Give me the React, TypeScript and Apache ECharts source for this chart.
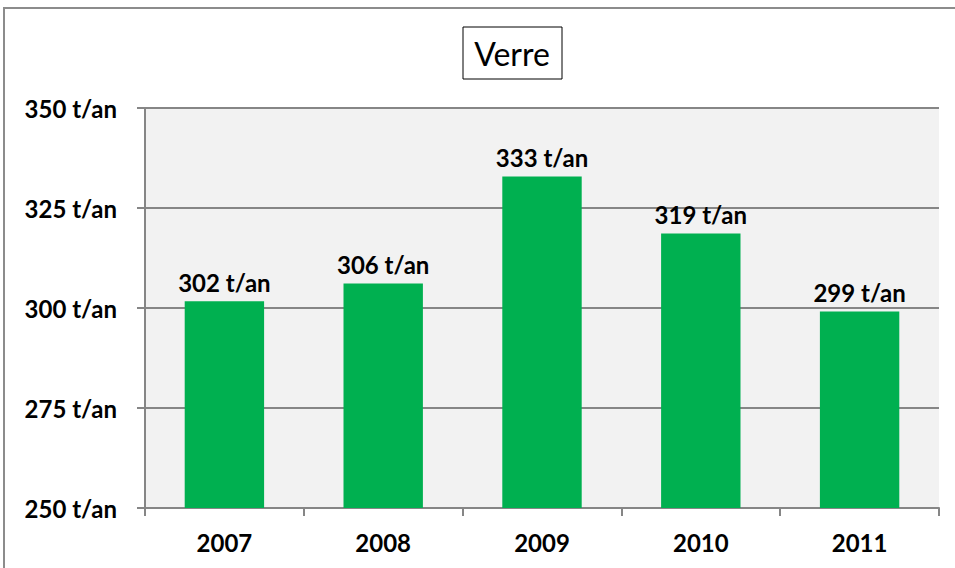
import React, { useEffect, useRef } from "react";
import * as echarts from "echarts";

const years = ["2007", "2008", "2009", "2010", "2011"];
const tonnages = [301.7, 306.1, 332.9, 318.6, 299.1];
const titleText = "Verre";
const unit = "t/an";

export default function App() {
  const ref = useRef<HTMLDivElement>(null);
  useEffect(() => {
    if (!ref.current) return;
    const chart = echarts.init(ref.current, null, { renderer: "svg" });
    const font = "Lato, 'Open Sans', sans-serif";
    chart.setOption({
      animation: false,
      backgroundColor: "#ffffff",
      graphic: [
        {
          type: "rect",
          shape: { x: 4, y: 8, width: 1000, height: 600 },
          style: { fill: "none", stroke: "#8c8c8c", lineWidth: 2 },
          z: 0,
        },
        {
          type: "rect",
          shape: { x: 463, y: 27, width: 99, height: 52 },
          style: { fill: "#ffffff", stroke: "#000000", lineWidth: 1 },
          z: 5,
        },
        {
          type: "text",
          x: 512,
          y: 53,
          style: {
            text: titleText,
            fontFamily: font,
            fontSize: 32,
            fill: "#000000",
            align: "center",
            verticalAlign: "middle",
          },
          z: 6,
        },
      ],
      grid: {
        left: 145,
        right: 16,
        top: 108,
        bottom: 60,
        show: true,
        backgroundColor: "#f2f2f2",
        borderWidth: 0,
      },
      xAxis: {
        type: "category",
        data: years,
        axisLine: { lineStyle: { color: "#868686", width: 2 } },
        axisTick: { show: true, length: 8, lineStyle: { color: "#868686", width: 2 } },
        axisLabel: {
          fontFamily: font,
          fontWeight: "bold",
          fontSize: 24,
          color: "#000000",
          margin: 22,
        },
      },
      yAxis: {
        type: "value",
        min: 250,
        max: 350,
        interval: 25,
        axisLine: { show: true, lineStyle: { color: "#868686", width: 2 } },
        axisTick: { show: true, length: 8, lineStyle: { color: "#868686", width: 2 } },
        splitLine: { lineStyle: { color: "#868686", width: 2 } },
        axisLabel: {
          fontFamily: font,
          fontWeight: "bold",
          fontSize: 24,
          color: "#000000",
          margin: 28,
          formatter: (v: number) => `${v} ${unit}`,
        },
      },
      series: [
        {
          type: "bar",
          data: tonnages,
          barWidth: "50%",
          itemStyle: { color: "#00b050" },
          label: {
            show: true,
            position: "top",
            distance: 7,
            fontFamily: font,
            fontWeight: "bold",
            fontSize: 24,
            color: "#000000",
            formatter: (p: any) => `${Math.round(p.value)} ${unit}`,
          },
        },
      ],
    });
    return () => chart.dispose();
  }, []);
  return (
    <div
      ref={ref}
      style={{ position: "fixed", left: 0, top: 0, width: 955, height: 568 }}
    />
  );
}
